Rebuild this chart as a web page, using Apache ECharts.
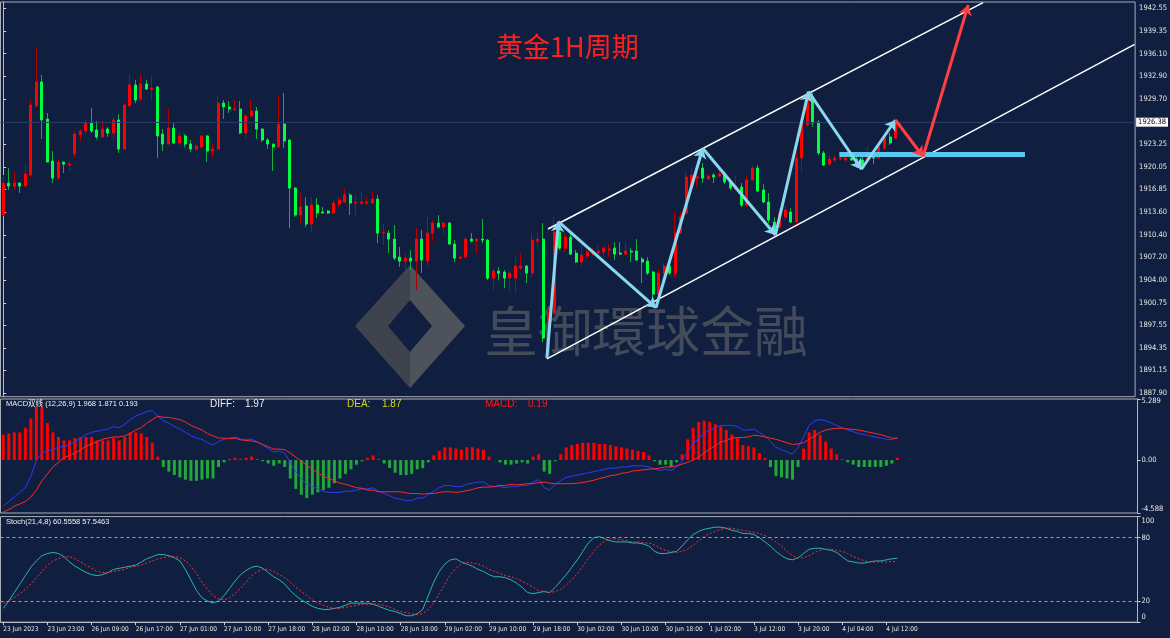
<!DOCTYPE html>
<html>
<head>
<meta charset="utf-8">
<script src="https://cdn.jsdelivr.net/npm/echarts@6/dist/echarts.min.js"></script>
<style>
  html, body { margin: 0; padding: 0; background: #101f3f; }
  #chart { width: 1170px; height: 638px; }
</style>
</head>
<body>
<div id="chart"></div>
<script>
// x axis tick labels, one every 8 hourly bars
const tickLabels = ['23 Jun 2023', '23 Jun 23:00', '26 Jun 09:00', '26 Jun 17:00', '27 Jun 01:00',
  '27 Jun 10:00', '27 Jun 18:00', '28 Jun 02:00', '28 Jun 10:00', '28 Jun 18:00', '29 Jun 02:00',
  '29 Jun 10:00', '29 Jun 18:00', '30 Jun 02:00', '30 Jun 10:00', '30 Jun 18:00', '1 Jul 02:00',
  '3 Jul 12:00', '3 Jul 20:00', '4 Jul 04:00', '4 Jul 12:00'];

const priceTicks = [1942.55, 1939.35, 1936.10, 1932.90, 1929.70, 1923.25, 1920.05, 1916.85, 1913.60,
  1910.40, 1907.20, 1904.00, 1900.75, 1897.55, 1894.35, 1891.15, 1887.90];
const macdTicks = [5.289, 0, -4.588];
const stochTicks = [0, 20, 80, 100];
const stochLevels = [20, 80];

// [open, close, low, high]
const candles = [
  [1913.20, 1917.74, 1913.06, 1918.88], [1917.74, 1917.32, 1916.75, 1919.87], [1917.32, 1917.74, 1916.75, 1919.31],
  [1917.74, 1917.32, 1916.32, 1917.89], [1917.32, 1919.02, 1917.32, 1920.44], [1918.88, 1928.82, 1918.60, 1929.53],
  [1928.68, 1932.09, 1928.54, 1937.06], [1932.09, 1926.69, 1923.99, 1933.08], [1926.83, 1920.73, 1920.73, 1927.68],
  [1920.87, 1918.45, 1917.74, 1922.29], [1918.45, 1920.73, 1918.17, 1921.01], [1920.73, 1920.44, 1919.17, 1920.73],
  [1920.30, 1920.44, 1919.45, 1921.01], [1921.86, 1924.70, 1921.29, 1925.13], [1924.56, 1925.13, 1923.71, 1925.41],
  [1925.13, 1926.26, 1924.56, 1926.83], [1926.26, 1925.13, 1924.84, 1928.39], [1925.27, 1924.28, 1923.99, 1926.55],
  [1924.28, 1925.41, 1924.28, 1926.69], [1925.41, 1924.84, 1924.28, 1925.70], [1924.84, 1926.69, 1923.71, 1927.12],
  [1926.69, 1922.57, 1922.00, 1927.54], [1922.57, 1928.82, 1922.43, 1928.96], [1928.68, 1931.66, 1928.68, 1933.22],
  [1931.66, 1929.53, 1929.10, 1932.37], [1929.67, 1931.80, 1929.25, 1933.22], [1931.80, 1931.09, 1930.95, 1932.37],
  [1931.09, 1931.24, 1929.53, 1932.94], [1931.38, 1924.42, 1921.29, 1931.52], [1924.70, 1923.28, 1922.29, 1925.41],
  [1923.28, 1925.55, 1923.28, 1928.39], [1925.55, 1923.42, 1923.28, 1926.41], [1923.42, 1924.42, 1923.00, 1924.99],
  [1924.42, 1923.28, 1922.86, 1924.70], [1923.28, 1922.57, 1922.15, 1923.85], [1922.57, 1923.00, 1922.29, 1923.28],
  [1922.86, 1924.42, 1922.86, 1924.56], [1924.42, 1922.29, 1920.73, 1924.56], [1922.29, 1922.57, 1921.44, 1923.42],
  [1922.57, 1929.10, 1922.43, 1930.24], [1929.10, 1928.54, 1926.83, 1929.53], [1928.54, 1928.25, 1927.68, 1929.39],
  [1928.11, 1928.25, 1928.11, 1929.53], [1928.25, 1924.84, 1924.70, 1929.39], [1924.84, 1927.26, 1923.99, 1927.54],
  [1927.26, 1927.97, 1927.12, 1929.53], [1927.97, 1925.41, 1923.99, 1928.54], [1925.41, 1923.85, 1923.57, 1925.55],
  [1923.85, 1923.28, 1922.57, 1924.13], [1923.28, 1922.86, 1919.45, 1923.28], [1922.86, 1926.12, 1922.86, 1930.24],
  [1926.12, 1923.71, 1922.71, 1930.52], [1923.85, 1917.03, 1911.35, 1923.99], [1917.03, 1913.20, 1912.92, 1917.18],
  [1913.20, 1914.34, 1911.92, 1916.32], [1914.48, 1911.92, 1911.50, 1915.76], [1911.92, 1914.62, 1910.65, 1915.76],
  [1914.62, 1913.48, 1912.77, 1915.61], [1913.63, 1913.48, 1913.48, 1914.34], [1913.77, 1913.48, 1913.34, 1913.91],
  [1913.48, 1914.90, 1913.34, 1915.33], [1914.76, 1915.33, 1914.34, 1915.76], [1915.05, 1916.04, 1914.90, 1917.03],
  [1916.04, 1914.90, 1913.20, 1916.32], [1914.90, 1915.05, 1913.20, 1916.04], [1914.90, 1915.05, 1914.62, 1916.61],
  [1914.90, 1915.05, 1914.62, 1915.76], [1914.90, 1915.47, 1914.90, 1916.47], [1915.47, 1910.64, 1909.22, 1916.04],
  [1910.64, 1910.79, 1908.94, 1911.92], [1910.64, 1909.79, 1907.80, 1911.07], [1909.79, 1907.09, 1906.81, 1911.78],
  [1907.24, 1906.67, 1905.82, 1908.66], [1906.67, 1907.09, 1905.39, 1907.66], [1907.09, 1906.67, 1905.39, 1908.23],
  [1906.67, 1909.79, 1902.55, 1911.35], [1909.79, 1906.81, 1904.96, 1911.07], [1906.67, 1910.64, 1905.82, 1913.06],
  [1910.64, 1912.06, 1909.51, 1912.49], [1912.06, 1911.50, 1911.35, 1913.20], [1911.50, 1912.06, 1910.36, 1912.21],
  [1912.06, 1909.08, 1909.08, 1912.21], [1909.08, 1907.09, 1906.53, 1909.65], [1907.09, 1907.24, 1906.95, 1907.38],
  [1907.24, 1909.79, 1907.09, 1910.07], [1909.79, 1909.51, 1909.36, 1910.64], [1909.51, 1909.79, 1907.80, 1909.93],
  [1909.79, 1909.65, 1909.22, 1912.63], [1909.65, 1904.25, 1903.97, 1909.79], [1904.25, 1905.25, 1902.55, 1905.67],
  [1905.25, 1904.96, 1903.97, 1905.82], [1905.11, 1904.25, 1902.83, 1905.39], [1904.25, 1904.96, 1902.27, 1905.39],
  [1904.25, 1905.96, 1902.27, 1907.24], [1905.67, 1905.96, 1905.39, 1907.80], [1905.96, 1904.96, 1903.54, 1906.10],
  [1904.96, 1909.65, 1904.40, 1910.79], [1909.51, 1909.79, 1908.66, 1910.64], [1909.79, 1895.73, 1895.17, 1912.06],
  [1895.45, 1899.28, 1894.03, 1899.71], [1899.28, 1910.79, 1899.00, 1912.92], [1910.79, 1908.51, 1908.23, 1912.06],
  [1908.51, 1910.07, 1907.95, 1910.64], [1910.07, 1907.66, 1907.52, 1910.79], [1907.80, 1906.53, 1906.38, 1908.23],
  [1906.53, 1907.52, 1905.96, 1908.94], [1907.38, 1907.95, 1907.09, 1908.23], [1907.80, 1907.95, 1907.38, 1908.51],
  [1907.80, 1908.09, 1907.52, 1908.94], [1907.95, 1908.51, 1907.24, 1908.80], [1908.23, 1908.37, 1907.24, 1909.08],
  [1908.51, 1907.66, 1906.81, 1909.36], [1907.80, 1907.66, 1907.52, 1909.36], [1907.66, 1908.09, 1907.52, 1909.22],
  [1908.09, 1907.95, 1906.53, 1908.51], [1908.09, 1906.81, 1906.81, 1909.79], [1906.95, 1906.53, 1903.54, 1907.24],
  [1906.67, 1904.96, 1904.68, 1907.24], [1905.11, 1901.98, 1901.13, 1905.25], [1901.98, 1904.96, 1901.56, 1905.39],
  [1904.96, 1905.96, 1903.97, 1906.38], [1905.96, 1904.96, 1904.68, 1907.24], [1904.96, 1910.64, 1904.25, 1913.63],
  [1910.64, 1912.92, 1910.64, 1913.63], [1913.48, 1918.60, 1913.20, 1919.31], [1917.18, 1918.88, 1917.03, 1919.87],
  [1918.45, 1918.60, 1917.18, 1919.87], [1919.87, 1918.45, 1917.74, 1920.58], [1918.31, 1918.74, 1918.17, 1919.02],
  [1918.88, 1918.60, 1917.74, 1919.16], [1918.74, 1919.02, 1918.60, 1919.59], [1919.02, 1917.89, 1917.60, 1919.31],
  [1917.89, 1917.03, 1916.75, 1918.17], [1916.89, 1917.32, 1916.75, 1918.74], [1917.18, 1914.62, 1914.34, 1917.74],
  [1914.62, 1918.17, 1914.34, 1918.88], [1918.17, 1919.87, 1918.17, 1920.02], [1919.87, 1916.61, 1916.47, 1920.30],
  [1916.75, 1915.05, 1914.90, 1917.60], [1915.05, 1912.49, 1912.06, 1916.32], [1912.21, 1910.64, 1910.36, 1912.92],
  [1911.50, 1913.48, 1911.35, 1914.19], [1912.92, 1913.91, 1912.49, 1914.48], [1913.63, 1912.21, 1912.06, 1914.19],
  [1912.21, 1921.29, 1911.50, 1922.15], [1921.29, 1926.26, 1919.31, 1926.69], [1925.98, 1930.52, 1925.70, 1930.67],
  [1929.96, 1926.26, 1925.70, 1930.52], [1926.41, 1922.00, 1921.72, 1926.69], [1922.00, 1920.30, 1920.16, 1922.29],
  [1920.44, 1921.15, 1920.16, 1921.72], [1921.01, 1921.29, 1920.73, 1921.72], [1921.15, 1921.29, 1921.01, 1921.44],
  [1921.01, 1921.29, 1920.87, 1921.58], [1921.29, 1921.01, 1920.87, 1921.44], [1921.15, 1920.30, 1919.87, 1921.44],
  [1921.01, 1920.16, 1919.87, 1921.72], [1921.01, 1921.72, 1920.73, 1923.00], [1922.00, 1921.29, 1920.44, 1922.43],
  [1921.29, 1922.86, 1921.15, 1923.00], [1922.71, 1924.13, 1922.43, 1924.56], [1924.28, 1923.42, 1923.14, 1924.84],
  [1924.13, 1926.38, 1923.99, 1926.69]
];

// MACD (12,26,9): histogram, DIFF, DEA
const macdHist = [
  2.2, 2.3, 2.4, 2.4, 2.8, 3.6, 4.6, 4.6, 3.2, 2.4,
  2.0, 1.7, 1.7, 1.9, 2.0, 2.0, 2.0, 1.7, 1.7, 1.7,
  1.9, 1.7, 2.0, 2.4, 2.4, 2.3, 2.0, 1.5, 0.3, -0.6,
  -1.0, -1.3, -1.5, -1.7, -1.8, -1.8, -1.7, -1.6, -1.6, -0.6,
  -0.2, 0.1, 0.2, 0.1, 0.2, 0.3, 0.1, -0.1, -0.3, -0.5,
  -0.3, -0.6, -1.6, -2.5, -3.0, -3.3, -3.0, -2.8, -2.6, -2.4,
  -2.0, -1.6, -1.2, -0.8, -0.4, -0.1, 0.2, 0.4, 0.1, -0.3,
  -0.7, -1.1, -1.3, -1.3, -1.2, -0.8, -0.7, -0.2, 0.4, 0.8,
  1.1, 1.1, 1.0, 0.9, 1.1, 1.1, 1.0, 0.9, 0.3, 0.0,
  -0.2, -0.4, -0.4, -0.3, -0.2, -0.3, 0.3, 0.5, -1.0, -1.2,
  -0.1, 0.5, 1.1, 1.3, 1.4, 1.5, 1.5, 1.5, 1.4, 1.4,
  1.3, 1.2, 1.1, 1.0, 0.9, 0.8, 0.7, 0.4, -0.1, -0.4,
  -0.4, -0.6, -0.2, 0.5, 1.8, 2.8, 3.3, 3.4, 3.3, 3.1,
  2.9, 2.6, 2.2, 1.9, 1.3, 1.2, 1.1, 0.6, 0.2, -0.6,
  -1.4, -1.5, -1.6, -1.7, -0.6, 1.0, 2.4, 2.6, 2.2, 1.6,
  1.0, 0.5, 0.1, -0.2, -0.4, -0.6, -0.6, -0.6, -0.6, -0.6,
  -0.5, -0.3, 0.193
];
const macdDiff = [
  -4.0, -3.6, -3.2, -2.8, -2.4, -1.4, 0.0, 0.6, 0.8, 0.9,
  1.1, 1.2, 1.3, 1.6, 1.9, 2.2, 2.4, 2.5, 2.6, 2.7,
  2.9, 2.8, 3.1, 3.5, 3.8, 4.0, 4.2, 4.3, 3.8, 3.4,
  3.2, 2.9, 2.7, 2.4, 2.1, 1.9, 1.8, 1.5, 1.3, 1.6,
  1.8, 1.9, 2.0, 1.8, 1.8, 1.8, 1.6, 1.3, 1.0, 0.7,
  0.8, 0.6, -0.2, -1.0, -1.6, -2.1, -2.3, -2.5, -2.7, -2.8,
  -2.8, -2.8, -2.7, -2.7, -2.6, -2.5, -2.5, -2.4, -2.7, -2.9,
  -3.1, -3.3, -3.4, -3.5, -3.5, -3.3, -3.3, -3.0, -2.7, -2.4,
  -2.2, -2.2, -2.3, -2.3, -2.1, -2.0, -1.9, -1.9, -2.2, -2.3,
  -2.3, -2.4, -2.3, -2.3, -2.2, -2.2, -1.9, -1.7, -2.4, -2.6,
  -2.1, -1.8, -1.5, -1.4, -1.3, -1.2, -1.1, -1.0, -0.9, -0.8,
  -0.7, -0.7, -0.6, -0.6, -0.5, -0.5, -0.5, -0.6, -0.8, -0.9,
  -0.8, -0.9, -0.6, -0.1, 0.7, 1.4, 1.9, 2.3, 2.6, 2.8,
  3.0, 3.0, 3.0, 2.9, 2.6, 2.6, 2.7, 2.4, 2.1, 1.6,
  1.1, 0.9, 0.7, 0.5, 1.1, 2.0, 3.0, 3.4, 3.5, 3.4,
  3.2, 3.0, 2.8, 2.6, 2.45, 2.3, 2.2, 2.1, 2.0, 1.9,
  1.8, 1.75, 1.968
];
const macdDea = [
  -4.5, -4.3, -4.0, -3.8, -3.6, -3.2, -2.6, -1.8, -1.2, -0.6,
  -0.2, 0.2, 0.4, 0.6, 0.9, 1.2, 1.4, 1.6, 1.8, 1.9,
  2.0, 2.0, 2.1, 2.3, 2.6, 2.8, 3.2, 3.5, 3.8, 3.7,
  3.7, 3.6, 3.5, 3.3, 3.0, 2.8, 2.6, 2.3, 2.1, 1.9,
  1.9, 1.85, 1.9, 1.75, 1.7, 1.65, 1.55, 1.35, 1.15, 0.95,
  0.95, 0.9, 0.6, 0.25, -0.1, -0.45, -0.8, -1.1, -1.4, -1.6,
  -1.8, -2.0, -2.1, -2.25, -2.4, -2.45, -2.6, -2.6, -2.75, -2.75,
  -2.75, -2.75, -2.75, -2.85, -2.9, -2.9, -2.95, -2.9, -2.9, -2.8,
  -2.75, -2.75, -2.8, -2.75, -2.65, -2.55, -2.4, -2.35, -2.35, -2.3,
  -2.2, -2.2, -2.1, -2.15, -2.1, -2.05, -2.05, -1.95, -1.9, -2.0,
  -2.05, -2.05, -2.05, -2.05, -2.0, -1.95, -1.85, -1.75, -1.6, -1.5,
  -1.35, -1.3, -1.15, -1.1, -0.95, -0.9, -0.85, -0.8, -0.75, -0.7,
  -0.6, -0.6, -0.5, -0.35, -0.2, 0.0, 0.25, 0.6, 0.95, 1.25,
  1.55, 1.7, 1.9, 1.95, 1.95, 2.0, 2.15, 2.1, 2.0, 1.9,
  1.8, 1.65, 1.5, 1.35, 1.4, 1.5, 1.8, 2.1, 2.4, 2.6,
  2.7, 2.75, 2.75, 2.7, 2.65, 2.6, 2.5, 2.4, 2.3, 2.2,
  2.05, 1.9, 1.871
];

// Stochastic (21,4,8): main and signal
const stochK = [
  13, 20, 28, 36, 44, 52, 58, 63, 65, 66,
  65, 62, 57, 53, 50, 47, 45, 44, 45, 47,
  50, 51, 52, 53, 54, 57, 60, 62, 64, 64,
  63, 61, 58, 50, 40, 30, 23, 20, 18, 20,
  25, 32, 39, 45, 49, 52, 53, 51, 47, 43,
  40, 36, 30, 25, 21, 18, 15, 13, 12, 12,
  13, 14, 16, 18, 18, 18, 18, 17, 15, 13,
  11, 10, 8, 6, 6, 8, 12, 25, 38, 48,
  55, 59, 60, 57, 55, 53, 50, 48, 45, 43,
  43, 42, 40, 37, 33, 28, 27, 28, 29, 28,
  33, 39, 45, 52, 59, 67, 75, 80, 81, 79,
  77, 76, 76, 76, 75, 75, 74, 72, 67, 65,
  65, 66, 67, 72, 78, 83, 86, 88, 89, 90,
  90, 89, 87, 86, 84, 84, 83, 80, 76, 72,
  67, 63, 60, 59, 61, 65, 69, 70, 70, 69,
  68, 66, 62, 58, 57, 56, 56, 57, 58, 58,
  59, 60, 60.5558
];
const stochD = [
  18, 20, 23, 27, 31, 36, 42, 48, 54, 58,
  60, 62, 62, 60, 57, 54, 51, 48, 47, 47,
  48, 49, 50, 52, 53, 54, 56, 58, 60, 61,
  62, 62, 61, 58, 53, 46, 38, 31, 25, 22,
  21, 23, 27, 32, 38, 44, 48, 50, 50, 48,
  45, 42, 38, 33, 29, 25, 21, 18, 16, 14,
  13, 13, 14, 15, 16, 17, 17, 17, 17, 16,
  14, 12, 10, 9, 8, 7, 8, 12, 18, 27,
  36, 45, 51, 55, 57, 56, 55, 53, 50, 48,
  46, 44, 43, 41, 39, 36, 33, 30, 29, 28,
  29, 31, 35, 40, 46, 53, 60, 67, 73, 77,
  79, 79, 78, 77, 76, 76, 75, 75, 73, 70,
  68, 67, 66, 67, 69, 73, 77, 81, 84, 86,
  88, 89, 89, 88, 87, 86, 85, 84, 82, 79,
  76, 72, 67, 63, 61, 61, 63, 66, 68, 69,
  69, 68, 67, 65, 62, 60, 58, 57, 57, 57,
  57, 57.3, 57.5463
];

// hand drawn analysis, in [bar index, price]
const channelLines = [
  [[98.9, 1911.22], [177.9, 1943.34]],
  [[98.7, 1892.78], [205.4, 1937.43]]
];
const blueWave = [[98.7, 1892.91], [100.8, 1912.26], [118.5, 1900.05], [127.0, 1922.68],
  [140.2, 1910.37], [146.2, 1930.71], [155.8, 1919.70], [162.0, 1926.69]];
const redWave = [[162.0, 1926.69], [167.0, 1921.51], [175.2, 1943.02]];
const supportBar = [[151.8, 1921.87], [185.5, 1921.87]];

const SLOTS = 206;
const TICK_STEP = 8;
const PRICE_MIN = 1887.42, PRICE_MAX = 1943.44;
const FONT = 'Liberation Sans, Arial, Noto Sans CJK SC, sans-serif';
const NARROW = '"Liberation Sans Narrow", "DejaVu Sans Condensed", "Liberation Sans", sans-serif';

const categories = Array.from({ length: SLOTS }, (_, i) =>
  (i % TICK_STEP === 0 && tickLabels[i / TICK_STEP]) || '');
const showTick = i => i % TICK_STEP === 0 && i / TICK_STEP < tickLabels.length;
const bodies = candles.map(([o, c]) => [o, c, Math.min(o, c), Math.max(o, c)]);
const lastClose = candles[candles.length - 1][1];
const toSegments = pts => pts.slice(1).map((p, i) => ({ coords: [pts[i], p] }));

const axisText = { color: '#e6e6e6', fontSize: 7.5, fontFamily: NARROW };
const timeText = { color: '#e6e6e6', fontSize: 6.5, fontFamily: NARROW };

const catAxis = (gi, show) => ({
  type: 'category', gridIndex: gi, data: categories, boundaryGap: true,
  axisLine: { show: show, lineStyle: { color: '#b4b8c0' } },
  axisTick: { show: show, alignWithLabel: true, interval: showTick, length: 3, lineStyle: { color: '#d0d0d0' } },
  axisLabel: Object.assign({ show: show, interval: showTick, align: 'left', margin: 4 }, timeText),
  splitLine: { show: false }
});

const valAxis = (gi, min, max, ticks, fmt, rich) => ({
  type: 'value', gridIndex: gi, position: 'right', min: min, max: max,
  axisLine: { show: true, lineStyle: { color: '#b4b8c0' } },
  axisTick: { show: true, length: 3, customValues: ticks, lineStyle: { color: '#d0d0d0' } },
  axisLabel: Object.assign({ customValues: ticks, formatter: fmt, margin: 4, rich: rich }, axisText),
  splitLine: { show: false }
});

const edgeRich = (down, up) => ({
  t: Object.assign({ padding: [down, 0, 0, 0] }, axisText),
  b: Object.assign({ padding: [0, 0, up, 0] }, axisText),
  m: Object.assign({}, axisText)
});

const chart = echarts.init(document.getElementById('chart'));

const option = {
  backgroundColor: '#101f3f',
  animation: false,
  title: {
    text: '黄金1H周期', left: 496, top: 33, padding: 0,
    textStyle: { color: '#ff1f1f', fontSize: 27, fontWeight: 'normal', fontFamily: 'Noto Sans CJK SC' }
  },
  grid: [
    { left: 0.5, top: 2, width: 1137, height: 394.7, show: true, borderColor: '#a9adb5', borderWidth: 1, backgroundColor: 'transparent' },
    { left: 0.5, top: 399, width: 1137, height: 114, show: true, borderColor: '#a9adb5', borderWidth: 1, backgroundColor: 'transparent' },
    { left: 0.5, top: 516.6, width: 1137, height: 105.5, show: true, borderColor: '#a9adb5', borderWidth: 1, backgroundColor: 'transparent' }
  ],
  xAxis: [
    catAxis(0, false),
    catAxis(1, false),
    catAxis(2, true),
    { type: 'value', gridIndex: 0, min: -0.5, max: SLOTS - 0.5, show: false }
  ],
  yAxis: [
    valAxis(0, PRICE_MIN, PRICE_MAX, priceTicks, v => v.toFixed(2)),
    valAxis(1, macdTicks[2], macdTicks[0], macdTicks,
      v => v === macdTicks[0] ? '{t|' + v + '}' : v === macdTicks[2] ? '{b|' + v + '}' : '{m|0.00}',
      edgeRich(5, 7)),
    valAxis(2, 0, 100, stochTicks,
      v => v === 100 ? '{t|100}' : v === 0 ? '{b|0}' : '{m|' + v + '}',
      edgeRich(9, 11))
  ],
  graphic: [
    // watermark logo
    { type: 'polygon', z: 0, shape: { points: [[355, 326], [410, 265], [410, 300], [388, 326], [410, 352], [410, 388]] }, style: { fill: '#3f434d' } },
    { type: 'polygon', z: 0, shape: { points: [[410, 265], [465, 326], [410, 388], [410, 352], [432, 326], [410, 300]] }, style: { fill: '#4e525b' } },
    { type: 'text', z: 0, x: 484, y: 331, style: { text: '皇御環球金融', fill: '#434a5a', fontSize: 54, fontFamily: 'Noto Sans CJK SC', verticalAlign: 'middle' } },
    // indicator headers
    { type: 'text', x: 6, y: 403.5, style: { text: 'MACD双线 (12,26,9) ' + macdDiff[macdDiff.length - 1].toFixed(3) + ' ' + macdDea[macdDea.length - 1].toFixed(3) + ' ' + macdHist[macdHist.length - 1].toFixed(3), fill: '#f0f0f0', fontSize: 7.5, fontFamily: FONT, verticalAlign: 'middle' } },
    { type: 'text', x: 210, y: 404.5, style: { text: 'DIFF:', fill: '#eeeeee', fontSize: 10, fontFamily: FONT, verticalAlign: 'middle' } },
    { type: 'text', x: 245, y: 404.5, style: { text: macdDiff[macdDiff.length - 1].toFixed(2), fill: '#eeeeee', fontSize: 10, fontFamily: FONT, verticalAlign: 'middle' } },
    { type: 'text', x: 347, y: 404.5, style: { text: 'DEA:', fill: '#d8d820', fontSize: 10, fontFamily: FONT, verticalAlign: 'middle' } },
    { type: 'text', x: 382, y: 404.5, style: { text: macdDea[macdDea.length - 1].toFixed(2), fill: '#d8d820', fontSize: 10, fontFamily: FONT, verticalAlign: 'middle' } },
    { type: 'text', x: 485, y: 404.5, style: { text: 'MACD:', fill: '#ff1a1a', fontSize: 10, fontFamily: FONT, verticalAlign: 'middle' } },
    { type: 'text', x: 528, y: 404.5, style: { text: macdHist[macdHist.length - 1].toFixed(2), fill: '#ff1a1a', fontSize: 10, fontFamily: FONT, verticalAlign: 'middle' } },
    { type: 'text', x: 6, y: 521.5, style: { text: 'Stoch(21,4,8) ' + stochK[stochK.length - 1].toFixed(4) + ' ' + stochD[stochD.length - 1].toFixed(4), fill: '#f0f0f0', fontSize: 7.5, fontFamily: FONT, verticalAlign: 'middle' } }
  ],
  series: [
    {
      name: 'wick', type: 'candlestick', xAxisIndex: 0, yAxisIndex: 0, data: candles, barWidth: 1, silent: true, z: 2,
      itemStyle: { color: '#b00000', color0: '#10b040', borderColor: '#b00000', borderColor0: '#10b040', borderWidth: 1 }
    },
    {
      name: 'body', type: 'candlestick', xAxisIndex: 0, yAxisIndex: 0, data: bodies, barWidth: 2.5, silent: true, z: 3,
      itemStyle: { color: '#ff0000', color0: '#00ff40', borderColor: '#ff0000', borderColor0: '#00ff40', borderWidth: 1 },
      markLine: {
        silent: true, symbol: 'none', animation: false,
        lineStyle: { color: '#2b3a66', width: 1, type: 'solid' },
        label: { show: true, position: 'end', distance: 1, formatter: lastClose.toFixed(2), color: '#000', backgroundColor: '#ffffff', padding: [1, 2, 0, 2], fontSize: 7.5, fontFamily: NARROW },
        data: [{ yAxis: lastClose }]
      }
    },
    {
      name: 'channel', type: 'lines', coordinateSystem: 'cartesian2d', xAxisIndex: 3, yAxisIndex: 0, z: 5, silent: true,
      symbol: 'none', lineStyle: { color: '#ffffff', width: 1.5, opacity: 1 },
      data: channelLines.map(c => ({ coords: c }))
    },
    {
      name: 'support', type: 'lines', coordinateSystem: 'cartesian2d', xAxisIndex: 3, yAxisIndex: 0, z: 5, silent: true,
      symbol: 'none', lineStyle: { color: '#58c8f2', width: 5, opacity: 1 },
      data: [{ coords: supportBar }]
    },
    {
      name: 'wave', type: 'lines', coordinateSystem: 'cartesian2d', xAxisIndex: 3, yAxisIndex: 0, z: 6, silent: true,
      symbol: ['none', 'arrow'], symbolSize: 10, lineStyle: { color: '#8ad8ee', width: 3, opacity: 1 },
      data: toSegments(blueWave)
    },
    {
      name: 'forecast', type: 'lines', coordinateSystem: 'cartesian2d', xAxisIndex: 3, yAxisIndex: 0, z: 6, silent: true,
      symbol: ['none', 'arrow'], symbolSize: 10, lineStyle: { color: '#ff4040', width: 3, opacity: 1 },
      data: toSegments(redWave)
    },
    {
      name: 'MACD', type: 'bar', xAxisIndex: 1, yAxisIndex: 1, barWidth: 3, silent: true,
      data: macdHist.map(v => ({ value: v, itemStyle: { color: v >= 0 ? '#ff0000' : '#22a83a' } }))
    },
    {
      name: 'DIFF', type: 'line', xAxisIndex: 1, yAxisIndex: 1, data: macdDiff, showSymbol: false, silent: true, z: 4,
      lineStyle: { color: '#2a3cff', width: 1 }
    },
    {
      name: 'DEA', type: 'line', xAxisIndex: 1, yAxisIndex: 1, data: macdDea, showSymbol: false, silent: true, z: 4,
      lineStyle: { color: '#ff2a2a', width: 1 }
    },
    {
      name: 'Stoch', type: 'line', xAxisIndex: 2, yAxisIndex: 2, data: stochK, showSymbol: false, silent: true,
      lineStyle: { color: '#2bb5b0', width: 1 },
      markLine: {
        silent: true, symbol: 'none', animation: false, label: { show: false },
        lineStyle: { color: '#9ca3af', width: 1, type: [3, 3] },
        data: stochLevels.map(v => ({ yAxis: v }))
      }
    },
    {
      name: 'Signal', type: 'line', xAxisIndex: 2, yAxisIndex: 2, data: stochD, showSymbol: false, silent: true,
      lineStyle: { color: '#ff3030', width: 1, type: [2, 2] }
    }
  ]
};

chart.setOption(option);

window.addEventListener('resize', () => {
  chart.resize();
});
</script>
</body>
</html>
